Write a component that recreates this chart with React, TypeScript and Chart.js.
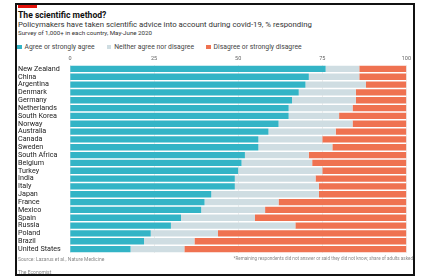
import React, { useEffect, useRef } from "react";
import { Chart, registerables } from "chart.js";

Chart.register(...registerables);

const countries = [
  "New Zealand", "China", "Argentina", "Denmark", "Germany", "Netherlands",
  "South Korea", "Norway", "Australia", "Canada", "Sweden", "South Africa",
  "Belgium", "Turkey", "India", "Italy", "Japan", "France", "Mexico", "Spain",
  "Russia", "Poland", "Brazil", "United States",
];
const agree = [76, 71, 70, 68, 66, 65, 65, 62, 59, 56, 56, 52, 51, 50, 49, 49, 42, 40, 39, 33, 30, 24, 22, 18];
const neither = [10, 15, 18, 17, 19, 19, 15, 22, 20, 19, 22, 19, 21, 25, 24, 25, 32, 22, 19, 22, 37, 20, 15, 16];
const disagree = [14, 14, 12, 15, 15, 16, 20, 16, 21, 25, 22, 29, 28, 25, 27, 26, 26, 38, 42, 45, 33, 56, 63, 66];
const seriesLabels = ["Agree or strongly agree", "Neither agree nor disagree", "Disagree or strongly disagree"];
const seriesColors = ["#33b4c6", "#cfdde2", "#ef7251"];
const tickStep = 25;

const FONT = "Roboto, 'Liberation Sans', sans-serif";

export default function App() {
  const ref = useRef<HTMLCanvasElement>(null);
  useEffect(() => {
    document.body.style.margin = "0";
    const chart = new Chart(ref.current!, {
      type: "bar",
      data: {
        labels: countries,
        datasets: [agree, neither, disagree].map((d, i) => ({
          label: seriesLabels[i],
          data: d,
          backgroundColor: seriesColors[i],
          borderWidth: 0,
          barPercentage: 0.8,
          categoryPercentage: 1,
        })),
      },
      options: {
        indexAxis: "y",
        animation: false,
        responsive: false,
        layout: { padding: { left: 2, right: 7, top: 0, bottom: 5 } },
        plugins: {
          legend: { display: false },
          tooltip: { enabled: false },
        },
        scales: {
          x: {
            stacked: true,
            position: "top",
            min: 0,
            max: 100,
            ticks: { stepSize: tickStep, font: { size: 5.5, family: FONT }, color: "#666", padding: 3 },
            grid: { drawTicks: false, color: "rgba(0,0,0,0.12)", lineWidth: 0.6 },
            border: { display: false },
            afterFit: (s: any) => { s.height = 13; },
          },
          y: {
            stacked: true,
            ticks: { crossAlign: "far", autoSkip: false, font: { size: 7.2, family: FONT }, color: "#222", padding: 0 },
            grid: { display: false },
            border: { display: false },
            afterFit: (s: any) => { s.width = 52; },
          },
        },
      },
    });
    return () => chart.destroy();
  }, []);

  const abs = (style: React.CSSProperties): React.CSSProperties => ({ position: "absolute", fontFamily: FONT, whiteSpace: "nowrap", ...style });

  return (
    <div style={{ position: "relative", width: 421, height: 277, background: "#fff", overflow: "hidden" }}>
      <div style={{ position: "absolute", left: 15, top: 3, width: 400, height: 273, border: "2px solid #111", boxSizing: "border-box" }} />
      <div style={{ position: "absolute", left: 18, top: 5, width: 19, height: 2.5, background: "#e3120b" }} />
      <div style={abs({ left: 18, top: 9, fontSize: 8.6, fontWeight: 700, color: "#111", lineHeight: "12px" })}>The scientific method?</div>
      <div style={abs({ left: 18, top: 21, fontSize: 7.8, color: "#333", lineHeight: "8px" })}>
        Policymakers have taken scientific advice into account during covid-19, % responding
      </div>
      <div style={abs({ left: 18, top: 29, fontSize: 6.2, color: "#333", lineHeight: "8px" })}>
        Survey of 1,000+ in each country, May-June 2020
      </div>
      <div style={abs({ left: 17, top: 43, fontSize: 6.8, color: "#444", lineHeight: "8px", display: "flex", gap: 12 })}>
        {seriesLabels.map((l, i) => (
          <span key={l} style={{ display: "flex", alignItems: "center", gap: 3 }}>
            <span style={{ width: 4.5, height: 4.5, background: seriesColors[i], display: "inline-block" }} />
            {l}
          </span>
        ))}
      </div>
      <canvas ref={ref} width={398} height={206} style={{ position: "absolute", left: 16, top: 52, width: 398, height: 206 }} />
      <div style={abs({ left: 18, top: 256, fontSize: 5, color: "#888", lineHeight: "6px" })}>Source: Lazarus et al., Nature Medicine</div>
      <div style={abs({ right: 8, top: 256, fontSize: 4.6, color: "#888", lineHeight: "6px" })}>
        *Remaining respondents did not answer or said they did not know; share of adults asked
      </div>
      <div style={abs({ left: 18, top: 269, fontSize: 5, color: "#888", lineHeight: "6px" })}>The Economist</div>
    </div>
  );
}
